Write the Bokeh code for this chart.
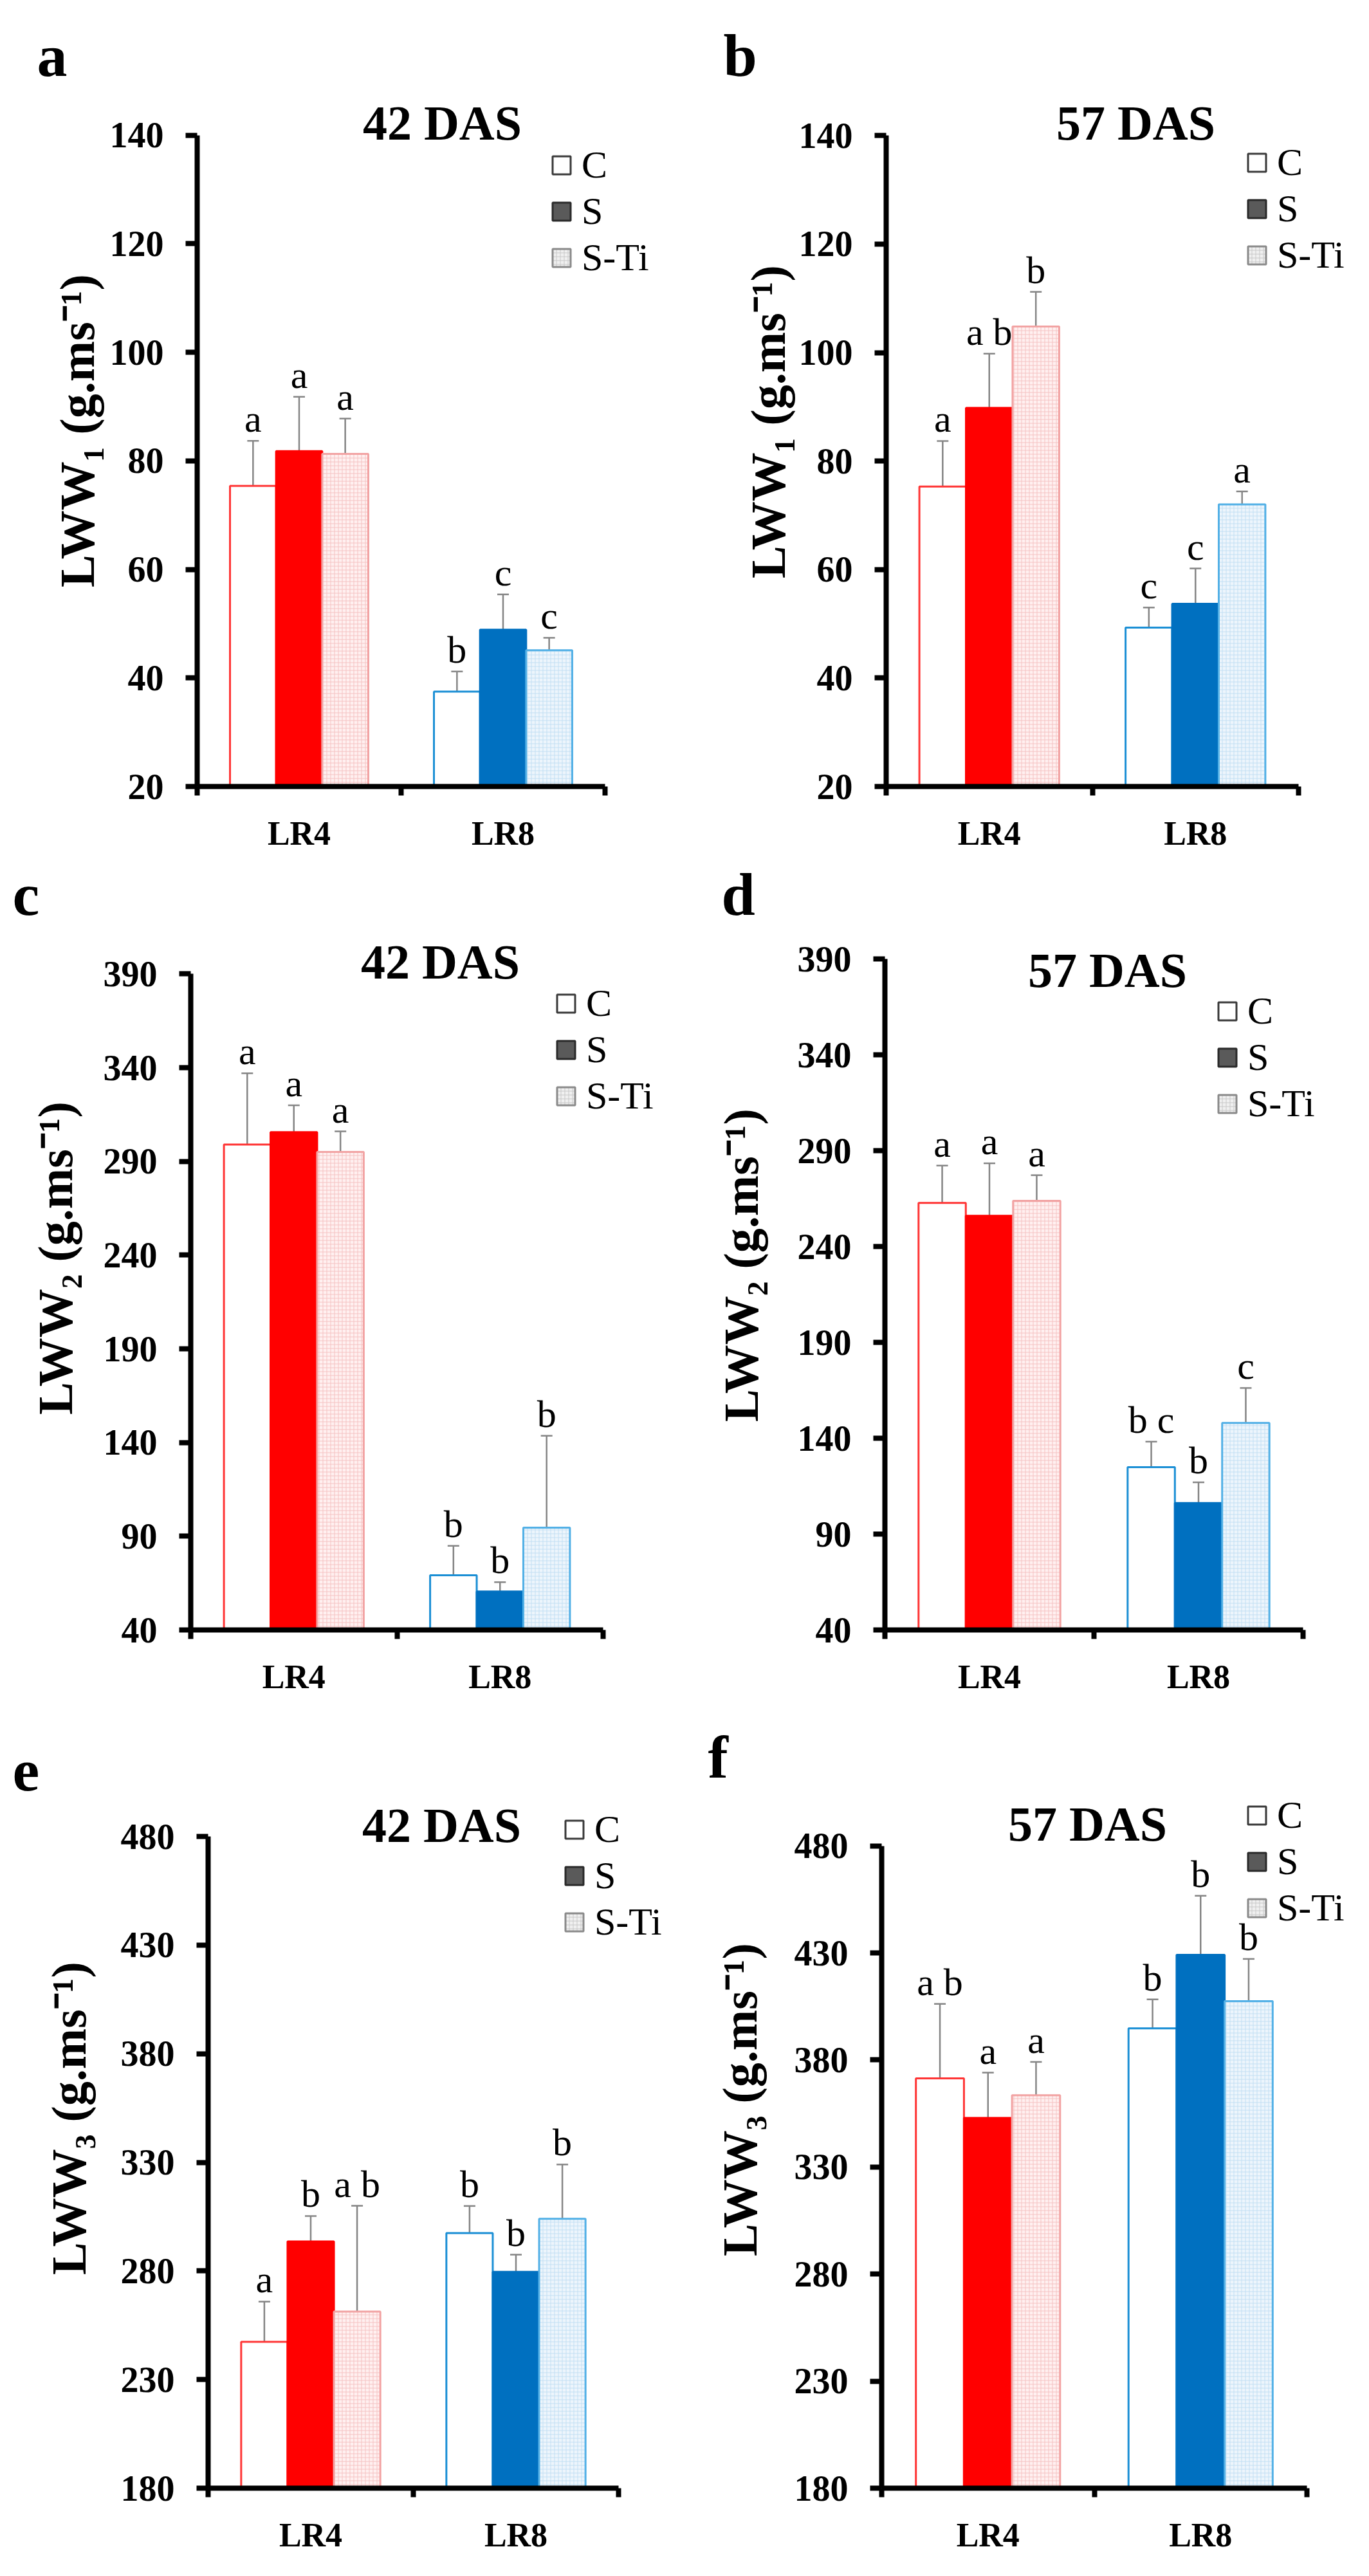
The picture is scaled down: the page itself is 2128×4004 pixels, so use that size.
import math
from bokeh.plotting import figure
from bokeh.models import (ColumnDataSource, FixedTicker, Whisker, TeeHead, Label, Title,
                          Legend, LegendItem, Range1d)
from bokeh.layouts import column, row
from bokeh.embed import file_html
from bokeh.resources import INLINE
from bokeh.core.properties import value

# ---------------- data ----------------
groups = ["LR4", "LR8"]
treatments = ["C", "S", "S-Ti"]

panel_ids = ["a", "b", "c", "d", "e", "f"]
panel_titles = ["42 DAS", "57 DAS", "42 DAS", "57 DAS", "42 DAS", "57 DAS"]
y_titles = ["LWW\u2081 (g.ms\u207b\u00b9)", "LWW\u2081 (g.ms\u207b\u00b9)",
            "LWW\u2082 (g.ms\u207b\u00b9)", "LWW\u2082 (g.ms\u207b\u00b9)",
            "LWW\u2083 (g.ms\u207b\u00b9)", "LWW\u2083 (g.ms\u207b\u00b9)"]

lww1_ticks = [20, 40, 60, 80, 100, 120, 140]
lww2_ticks = [40, 90, 140, 190, 240, 290, 340, 390]
lww3_ticks = [180, 230, 280, 330, 380, 430, 480]

# means [LR4 (C, S, S-Ti), LR8 (C, S, S-Ti)]
a_means = [[75.4, 81.8, 81.3], [37.5, 48.9, 45.1]]
a_errors = [[8.3, 10.0, 6.5], [3.7, 6.5, 2.3]]
a_letters = [["a", "a", "a"], ["b", "c", "c"]]

b_means = [[75.3, 89.8, 104.8], [49.3, 53.7, 72.0]]
b_errors = [[8.4, 10.0, 6.4], [3.7, 6.5, 2.4]]
b_letters = [["a", "a b", "b"], ["c", "c", "a"]]

c_means = [[299.0, 305.6, 295.0], [69.2, 60.5, 94.6]]
c_errors = [[38.0, 14.3, 11.0], [15.7, 5.0, 49.0]]
c_letters = [["a", "a", "a"], ["b", "b", "b"]]

d_means = [[262.7, 256.0, 263.8], [124.9, 106.2, 148.0]]
d_errors = [[19.5, 27.4, 13.4], [13.3, 10.8, 18.2]]
d_letters = [["a", "a", "a"], ["b c", "b", "c"]]

e_means = [[247.4, 293.6, 261.3], [297.4, 279.6, 304.0]]
e_errors = [[18.5, 11.7, 48.7], [12.5, 7.9, 25.0]]
e_letters = [["a", "b", "a b"], ["b", "b", "b"]]

f_means = [[371.4, 352.9, 363.5], [394.8, 429.1, 407.5]]
f_errors = [[34.8, 21.2, 15.6], [13.5, 27.6, 19.7]]
f_letters = [["a b", "a", "a"], ["b", "b", "b"]]

# ---------------- styles / layout ----------------
SERIF = "Liberation Serif"
BAR_W = 0.226
FILL = {"LR4": ["#FFFFFF", "#FF0000", "#FFF0F0"], "LR8": ["#FFFFFF", "#0070C0", "#EDF5FC"]}
LINE = {"LR4": ["#FF3535", "#FF0000", "#F2A3A3"], "LR8": ["#1B8FD5", "#0070C0", "#52B0E6"]}
HATCH = [" ", " ", "+"]
HATCH_COLOR = {"LR4": "#F5C2C2", "LR8": "#C2DFF3"}

ROWS = [8, 1338, 2666, 3996]
COLS = [8, 1064, 2120]
# axis box (left, right, top, bottom) in page pixels
FRAMES = {
    "a": (314, 948, 218, 1233), "b": (1385, 2026, 209, 1230),
    "c": (304, 945, 1521, 2550), "d": (1383, 2033, 1498, 2541),
    "e": (331, 969, 2862, 3875), "f": (1378, 2039, 2866, 3880),
}
LETTER_POS = {"a": (65, 137), "b": (1132, 133), "c": (27, 1433),
              "d": (1129, 1429), "e": (27, 2789), "f": (1108, 2810)}
TITLE_POS = {"a": (695, 199), "b": (1773, 189), "c": (692, 1502),
             "d": (1729, 1515), "e": (694, 2844), "f": (1698, 2832)}
YLAB_POS = {"a": (156, 663), "b": (1230, 646), "c": (122, 1955),
            "d": (1183, 1957), "e": (143, 3283), "f": (1173, 3259)}
LEGEND_POS = {"a": (863, 243), "b": (1944, 236), "c": (870, 1552),
              "d": (1898, 1555), "e": (883, 2827), "f": (1944, 2810)}

LETTER_FS = 94
TITLE_FS = 76
YLAB_FS = 76
YLAB_LEN = 6.855 * YLAB_FS
ROW_H = 67
LEG_SP = 3
LEG_SHIFT = 12
SQ = 35
YAXIS_W = 136


def make_panel(idx, means, errors, letters, ticks):
    key = panel_ids[idx]
    r, c = divmod(idx, 2)
    fx0, fx1 = COLS[c], COLS[c + 1]
    fy0, fy1 = ROWS[r], ROWS[r + 1]
    fl, fr, ft, fb = FRAMES[key]
    ymin, ymax = ticks[0], ticks[-1]

    lx, ly = LETTER_POS[key]
    tx, ty = TITLE_POS[key]
    yx, yy = YLAB_POS[key]
    gx, gy = LEGEND_POS[key]
    leg_top = gy - (ROW_H - SQ) / 2 + LEG_SHIFT
    leg_bottom = leg_top + 3 * ROW_H + 2 * LEG_SP
    letter_desc = 0.216 * LETTER_FS

    # plotting frame extends beyond the axis box so annotations are not clipped
    frame_top = int(min(ly + letter_desc, ty - 54, leg_top - 8, ft - 6))
    frame_right = fx1 - 2
    x_end = len(groups) * (frame_right - fl) / (fr - fl)
    y_end = ymin + (ymax - ymin) * (fb - frame_top) / (fb - ft)

    p = figure(width=fx1 - fx0, height=fy1 - fy0,
               x_range=Range1d(0, x_end), y_range=Range1d(ymin, y_end),
               output_backend="svg", toolbar_location=None,
               min_border_left=fl - fx0, min_border_right=fx1 - frame_right,
               min_border_top=frame_top - fy0, min_border_bottom=fy1 - fb)
    p.outline_line_color = None
    p.grid.visible = False
    p.background_fill_color = "white"
    p.border_fill_color = "white"

    # panel letter (plot title)
    p.title.text = key
    p.title.align = "left"
    p.title.offset = lx - fl
    p.title.standoff = 0
    p.title.text_font = SERIF
    p.title.text_font_style = "bold"
    p.title.text_font_size = f"{LETTER_FS}px"
    p.title.text_color = "black"

    # axes
    p.yaxis.ticker = FixedTicker(ticks=ticks, minor_ticks=[])
    p.yaxis.bounds = (ymin, ymax)
    p.yaxis.axis_line_width = 8
    p.yaxis.axis_line_color = "black"
    p.yaxis.major_tick_line_width = 8
    p.yaxis.major_tick_out = 18
    p.yaxis.major_tick_in = 0
    p.yaxis.major_label_standoff = 34
    p.yaxis.major_label_text_font = SERIF
    p.yaxis.major_label_text_font_style = "bold"
    p.yaxis.major_label_text_font_size = "56px"
    p.yaxis.major_label_text_color = "black"

    centers = [i + 0.5 for i in range(len(groups))]
    p.xaxis.ticker = FixedTicker(ticks=centers, minor_ticks=list(range(len(groups) + 1)))
    p.xaxis.bounds = (0, len(groups))
    p.xaxis.major_label_overrides = {ctr: g for ctr, g in zip(centers, groups)}
    p.xaxis.axis_line_width = 8
    p.xaxis.axis_line_color = "black"
    p.xaxis.major_tick_line_color = None
    p.xaxis.major_tick_out = 0
    p.xaxis.major_tick_in = 0
    p.xaxis.minor_tick_line_color = "black"
    p.xaxis.minor_tick_line_width = 8
    p.xaxis.minor_tick_out = 14
    p.xaxis.minor_tick_in = 0
    p.xaxis.major_label_standoff = 30
    p.xaxis.major_label_text_font = SERIF
    p.xaxis.major_label_text_font_style = "bold"
    p.xaxis.major_label_text_font_size = "52px"
    p.xaxis.major_label_text_color = "black"

    # y axis title (left side panel)
    ylab_h = 1.107 * YLAB_FS
    max_standoff = (fl - fx0) - YAXIS_W - ylab_h - 14
    ys = 2 * (fl - YAXIS_W - 0.216 * YLAB_FS - yx)
    ys = max(0, min(ys, max_standoff))
    p.add_layout(Title(text=y_titles[idx], align="left",
                       offset=(fb - yy) - YLAB_LEN / 2, standoff=ys,
                       text_font=SERIF, text_font_style="bold",
                       text_font_size=f"{YLAB_FS}px", text_color="black"), "left")

    # bars
    xs, tops, fills, lines, hatches, hcols, uppers, lowers, labs = ([] for _ in range(9))
    for gi, g in enumerate(groups):
        for ti, t in enumerate(treatments):
            x = centers[gi] + (ti - 1) * BAR_W
            m = means[gi][ti]
            e = errors[gi][ti]
            xs.append(x)
            tops.append(m)
            fills.append(FILL[g][ti])
            lines.append(LINE[g][ti])
            hatches.append(HATCH[ti])
            hcols.append(HATCH_COLOR[g])
            uppers.append(m + e)
            lowers.append(m - e)
            labs.append(letters[gi][ti])
    src = ColumnDataSource(dict(x=xs, top=tops, fill=fills, line=lines, hatch=hatches,
                                hcol=hcols, upper=uppers, lower=lowers, lab=labs))
    p.vbar(x="x", top="top", bottom=ymin, width=BAR_W, source=src,
           fill_color="fill", line_color="line", line_width=3,
           hatch_pattern="hatch", hatch_color="hcol", hatch_scale=6, hatch_weight=1)

    wcol = "#858585"
    p.add_layout(Whisker(source=src, base="x", upper="upper", lower="lower",
                         dimension="height", line_color=wcol, line_width=2.5,
                         upper_head=TeeHead(size=18, line_color=wcol, line_width=2.5),
                         lower_head=TeeHead(size=18, line_color=wcol, line_width=2.5)))

    p.text(x="x", y="upper", text="lab", source=src, text_font=value(SERIF),
           text_font_size="60px", text_align="center", text_baseline="alphabetic",
           text_color="black", y_offset=-34)

    # panel title (inside extended frame)
    p.add_layout(Label(x=0, y=ymax, x_offset=tx - fl, y_offset=ft - ty, text=panel_titles[idx],
                       text_font=SERIF, text_font_style="bold", text_font_size=f"{TITLE_FS}px",
                       text_align="center", text_baseline="alphabetic", text_color="black"))

    # legend with neutral swatches (hidden renderers, only their legend glyphs show)
    r_c = p.vbar(x="x", top="top", bottom=ymin, width=BAR_W, source=src,
                 fill_color="white", line_color="#3a3a3a", line_width=3, visible=False)
    r_s = p.vbar(x="x", top="top", bottom=ymin, width=BAR_W, source=src,
                 fill_color="#5a5a5a", line_color="#2a2a2a", line_width=3, visible=False)
    r_t = p.vbar(x="x", top="top", bottom=ymin, width=BAR_W, source=src,
                 fill_color="#F0F0F0", line_color="#8a8a8a", line_width=3,
                 hatch_pattern="+", hatch_color="#C8C8C8", hatch_scale=6, hatch_weight=1,
                 visible=False)
    legend = Legend(items=[LegendItem(label=treatments[0], renderers=[r_c]),
                           LegendItem(label=treatments[1], renderers=[r_s]),
                           LegendItem(label=treatments[2], renderers=[r_t])],
                    location=(gx - fl, fb - leg_bottom), orientation="vertical",
                    glyph_width=SQ, glyph_height=SQ, label_height=ROW_H,
                    label_text_font=SERIF, label_text_font_size="60px",
                    label_text_color="black", label_standoff=14, spacing=LEG_SP,
                    padding=0, margin=0, border_line_color=None,
                    background_fill_alpha=0, inactive_fill_alpha=0)
    p.add_layout(legend)
    return p


panels = [
    make_panel(0, a_means, a_errors, a_letters, lww1_ticks),
    make_panel(1, b_means, b_errors, b_letters, lww1_ticks),
    make_panel(2, c_means, c_errors, c_letters, lww2_ticks),
    make_panel(3, d_means, d_errors, d_letters, lww2_ticks),
    make_panel(4, e_means, e_errors, e_letters, lww3_ticks),
    make_panel(5, f_means, f_errors, f_letters, lww3_ticks),
]

layout = column(row(panels[0], panels[1]), row(panels[2], panels[3]), row(panels[4], panels[5]))
open("out.html", "w").write(file_html(layout, INLINE))
